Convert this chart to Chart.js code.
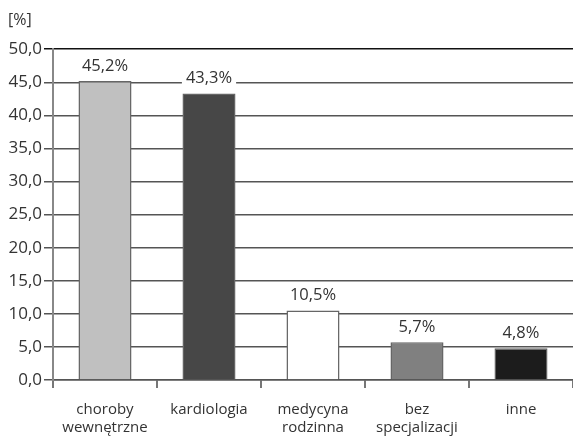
<!DOCTYPE html>
<html>
<head>
<meta charset="utf-8">
<script src="https://cdn.jsdelivr.net/npm/chart.js@4"></script>
<style>
html,body{margin:0;padding:0;background:#fff;}
#wrap{width:573px;height:437px;}
</style>
</head>
<body>
<div id="wrap"><canvas id="c" width="573" height="437"></canvas></div>
<script>
const categories = [["choroby","wewnętrzne"],"kardiologia",["medycyna","rodzinna"],["bez","specjalizacji"],"inne"];
const values = [45.2, 43.3, 10.5, 5.7, 4.8];
const barColors = ["#c0c0c0","#474747","#ffffff","#808080","#1c1c1c"];
const yTicks = [0,5,10,15,20,25,30,35,40,45,50];

const fmt = v => v.toFixed(1).replace('.', ',');

const labelPlugin = {
  id: 'vlabels',
  afterDatasetsDraw(chart) {
    const ctx = chart.ctx;
    const meta = chart.getDatasetMeta(0);
    ctx.save();
    ctx.font = '16.5px "Open Sans"';
    ctx.textAlign = 'center';
    ctx.textBaseline = 'middle';
    meta.data.forEach((bar, i) => {
      const txt = fmt(values[i]) + '%';
      const w = ctx.measureText(txt).width;
      const y = bar.y - 15;
      ctx.fillStyle = '#fff';
      ctx.fillRect(bar.x - w/2 - 4, y - 10, w + 8, 20);
      ctx.fillStyle = '#333';
      ctx.fillText(txt, bar.x, y);
    });
    ctx.restore();
  }
};

new Chart(document.getElementById('c'), {
  type: 'bar',
  data: {
    labels: categories,
    datasets: [{
      data: values,
      backgroundColor: barColors,
      borderColor: '#666',
      borderWidth: 1.5,
      barPercentage: 0.51,
      categoryPercentage: 1.0
    }]
  },
  options: {
    responsive: false,
    animation: false,
    devicePixelRatio: 1,
    layout: { padding: { left: 8, right: 0, top: 0, bottom: 0 } },
    plugins: {
      legend: { display: false },
      tooltip: { enabled: false },
      title: {
        display: true,
        text: '[%]',
        align: 'start',
        color: '#333',
        font: { family: 'Open Sans', size: 16, weight: 'normal' },
        padding: { top: 11, bottom: 19 }
      }
    },
    scales: {
      x: {
        afterFit(scale) { scale.height = 57; },
        grid: { display: true, drawOnChartArea: false, drawTicks: true, tickLength: 8, color: '#777', lineWidth: 2, offset: true },
        border: { display: true, color: '#555', width: 1.5 },
        ticks: { color: '#333', font: { family: 'Open Sans', size: 15 }, padding: 13, maxRotation: 0, autoSkip: false }
      },
      y: {
        min: 0, max: 50,
        afterFit(scale) { scale.width = 45; },
        afterBuildTicks(axis) { axis.ticks = yTicks.map(v => ({ value: v })); },
        grid: {
          color: ctx => (ctx.tick && ctx.tick.value === 50) ? '#111' : '#555',
          lineWidth: 1.5,
          tickLength: 9
        },
        border: { display: true, color: '#888', width: 2 },
        ticks: { color: '#333', font: { family: 'Open Sans', size: 17 }, padding: 2, callback: v => fmt(v) }
      }
    }
  },
  plugins: [labelPlugin]
});
</script>
</body>
</html>
